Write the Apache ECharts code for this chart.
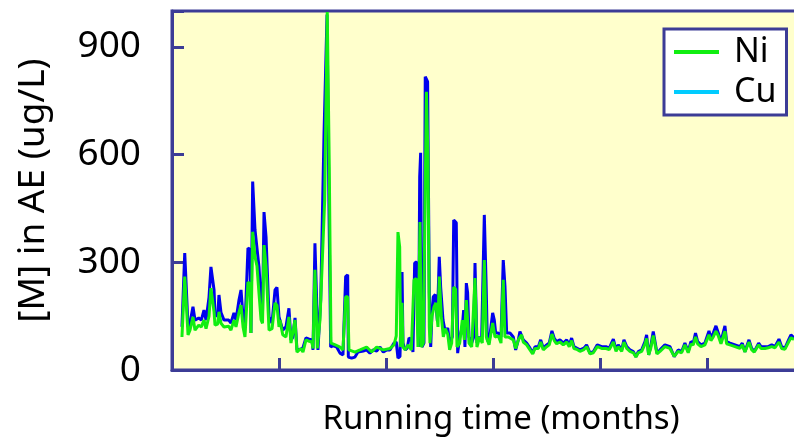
<!DOCTYPE html>
<html><head><meta charset="utf-8">
<script src="https://cdn.jsdelivr.net/npm/echarts@6/dist/echarts.min.js"></script>
<style>html,body{margin:0;padding:0;background:#fff}#c{width:794px;height:439px}</style>
</head><body><div id="c"></div>
<script>
const seriesNames = ['Ni', 'Cu'];
const yTicks = [0, 300, 600, 900];

const cuTime = [0.093,0.119,0.150,0.168,0.196,0.215,0.250,0.274,0.299,0.318,0.346,0.364,0.393,0.402,0.427,0.439,0.458,0.486,0.530,0.551,0.579,0.598,0.626,0.645,0.664,0.682,0.710,0.729,0.738,0.754,0.766,0.776,0.794,0.813,0.832,0.846,0.860,0.879,0.907,0.935,0.963,0.981,1.000,1.035,1.065,1.093,1.112,1.128,1.150,1.168,1.203,1.224,1.252,1.283,1.308,1.318,1.336,1.352,1.364,1.390,1.421,1.449,1.467,1.483,1.508,1.539,1.570,1.598,1.623,1.642,1.648,1.679,1.710,1.738,1.788,1.819,1.850,1.881,1.913,1.944,1.975,2.007,2.037,2.075,2.096,2.112,2.131,2.150,2.159,2.180,2.199,2.215,2.237,2.252,2.268,2.287,2.305,2.315,2.324,2.336,2.355,2.367,2.389,2.405,2.418,2.430,2.442,2.461,2.480,2.498,2.511,2.533,2.554,2.577,2.595,2.620,2.633,2.657,2.670,2.689,2.713,2.726,2.738,2.751,2.763,2.776,2.801,2.820,2.832,2.850,2.876,2.894,2.919,2.935,2.947,2.963,2.981,2.997,3.012,3.025,3.050,3.075,3.096,3.112,3.128,3.159,3.190,3.212,3.237,3.252,3.283,3.315,3.346,3.371,3.393,3.424,3.446,3.470,3.502,3.526,3.551,3.573,3.595,3.626,3.657,3.689,3.713,3.735,3.757,3.782,3.813,3.850,3.875,3.907,3.938,3.975,4.016,4.056,4.087,4.125,4.150,4.171,4.203,4.224,4.250,4.280,4.312,4.336,4.358,4.390,4.421,4.436,4.455,4.474,4.498,4.514,4.533,4.561,4.607,4.654,4.694,4.731,4.763,4.794,4.825,4.850,4.872,4.893,4.913,4.944,4.981,5.019,5.037,5.059,5.084,5.106,5.131,5.147,5.168,5.184,5.215,5.262,5.308,5.330,5.355,5.393,5.417,5.442,5.483,5.505,5.542,5.573,5.605,5.636,5.673,5.698,5.729,5.763,5.785,5.813];
const cuValue = [120,326,120,131,176,139,145,139,167,139,203,287,223,153,150,209,160,139,139,131,159,139,195,223,148,120,340,335,103,525,525,390,385,287,195,160,440,370,148,131,223,230,148,111,120,172,84,90,145,56,58,62,89,86,84,56,353,195,56,195,660,990,455,64,68,64,47,42,260,265,36,33,36,50,53,56,47,56,53,64,50,56,56,75,78,33,38,273,75,56,61,89,86,50,298,301,64,538,605,64,75,817,803,214,64,159,204,210,137,315,231,139,106,117,75,92,418,410,47,92,120,167,64,242,215,92,75,92,298,75,92,84,432,251,84,75,120,159,140,103,103,92,306,234,103,103,92,56,84,107,84,75,61,47,65,65,84,61,70,75,109,88,79,84,75,84,70,89,65,61,56,61,70,47,51,70,65,65,61,86,56,70,56,84,65,56,51,37,51,56,79,98,42,65,107,107,47,56,70,65,37,56,51,75,51,79,75,103,79,70,75,109,89,103,123,103,79,84,123,79,75,70,65,75,51,84,61,51,75,65,65,65,70,65,86,65,61,84,98,90];

const niTime = [0.093,0.119,0.150,0.168,0.196,0.215,0.250,0.274,0.299,0.318,0.346,0.364,0.393,0.402,0.427,0.439,0.458,0.486,0.530,0.551,0.579,0.598,0.626,0.645,0.664,0.682,0.710,0.729,0.738,0.754,0.766,0.776,0.794,0.813,0.832,0.846,0.860,0.879,0.907,0.935,0.963,0.981,1.000,1.009,1.035,1.065,1.093,1.112,1.150,1.168,1.203,1.224,1.252,1.283,1.308,1.318,1.336,1.358,1.383,1.427,1.451,1.470,1.486,1.526,1.570,1.598,1.623,1.642,1.654,1.710,1.757,1.819,1.866,1.913,1.975,2.037,2.075,2.096,2.112,2.128,2.137,2.150,2.159,2.180,2.206,2.224,2.237,2.262,2.283,2.299,2.318,2.330,2.349,2.378,2.393,2.405,2.411,2.430,2.449,2.467,2.486,2.498,2.517,2.536,2.554,2.577,2.595,2.614,2.633,2.651,2.664,2.689,2.713,2.732,2.751,2.763,2.776,2.801,2.832,2.850,2.876,2.900,2.919,2.938,2.963,2.997,3.019,3.050,3.075,3.096,3.112,3.143,3.190,3.212,3.237,3.268,3.283,3.315,3.346,3.371,3.393,3.424,3.446,3.470,3.502,3.526,3.551,3.573,3.595,3.626,3.657,3.689,3.713,3.735,3.757,3.782,3.813,3.850,3.875,3.907,3.938,3.975,4.016,4.056,4.087,4.125,4.150,4.171,4.203,4.224,4.250,4.280,4.312,4.336,4.358,4.390,4.421,4.436,4.455,4.474,4.498,4.514,4.533,4.561,4.607,4.654,4.694,4.731,4.763,4.794,4.825,4.850,4.872,4.893,4.913,4.944,4.981,5.019,5.037,5.059,5.084,5.106,5.131,5.147,5.168,5.184,5.215,5.262,5.308,5.330,5.355,5.393,5.417,5.442,5.483,5.505,5.542,5.573,5.605,5.636,5.673,5.698,5.729,5.763,5.785,5.813];
const niValue = [92,260,98,111,148,111,125,120,139,115,150,228,162,125,128,162,130,120,122,111,139,120,160,181,120,92,245,240,103,385,380,315,290,214,140,130,348,290,111,115,187,180,120,139,98,92,148,75,139,50,60,50,84,80,78,60,279,60,139,474,997,566,75,70,64,56,204,204,56,50,56,64,50,64,56,60,70,95,384,343,64,187,64,56,70,75,56,251,255,64,412,64,75,775,585,120,75,150,176,187,120,260,150,92,115,100,56,75,231,225,64,75,139,84,195,139,75,64,256,64,92,75,306,92,70,131,92,95,75,251,92,92,84,60,84,98,78,70,56,45,60,60,78,56,65,70,100,82,73,78,70,78,65,82,60,58,52,57,65,45,48,65,60,60,57,78,52,65,52,78,60,52,48,36,48,52,72,88,42,60,96,95,45,52,65,60,38,52,48,70,48,72,70,92,73,65,70,98,82,92,108,95,73,78,108,73,70,65,60,70,50,78,57,50,70,60,60,62,65,62,78,60,58,78,90,85];

const zip = (t, v) => t.map((x, i) => [x, v[i]]);
const frame = '#3c3c96';
const font = 'Noto Sans';

const chart = echarts.init(document.getElementById('c'), null, {renderer: 'canvas'});
chart.setOption({
  animation: false,
  textStyle: {fontFamily: font},
  grid: {left: 172, top: 11, bottom: 69, right: -10, show: true, containLabel: false,
         outerBoundsMode: 'none',
         backgroundColor: '#ffffcc', borderColor: frame, borderWidth: 3},
  xAxis: {
    type: 'value', min: 0, max: 5.907, interval: 1,
    name: 'Running time (months)', nameLocation: 'middle', nameGap: 33,
    nameTextStyle: {fontSize: 33, color: '#000', fontFamily: font, padding: [0, 0, 0, 26]},
    axisLine: {show: true, lineStyle: {color: frame, width: 3}},
    axisTick: {show: true, inside: true, length: 12, lineStyle: {color: frame, width: 3}},
    axisLabel: {show: false}, splitLine: {show: false}
  },
  yAxis: {
    type: 'value', min: yTicks[0], max: 1000, interval: 300,
    name: '[M] in AE (ug/L)', nameLocation: 'middle', nameGap: 120, nameRotate: 90,
    nameTextStyle: {fontSize: 37, color: '#000', fontFamily: font},
    axisLine: {show: true, lineStyle: {color: frame, width: 3}},
    axisTick: {show: true, inside: true, length: 12, lineStyle: {color: frame, width: 3}},
    axisLabel: {fontSize: 37, color: '#000', margin: 31, fontFamily: font,
      formatter: v => yTicks.includes(v) ? String(v) : ''},
    splitLine: {show: false}
  },
  legend: {
    orient: 'vertical', left: 664, top: 29, width: 100,
    backgroundColor: '#fff', borderColor: frame, borderWidth: 3,
    padding: [6, 10, 6, 10], itemGap: 6, itemWidth: 45, itemHeight: 4, icon: 'rect',
    textStyle: {fontSize: 34, color: '#000', fontFamily: font, padding: [0, 0, 0, 10]},
    data: [{name: seriesNames[0], itemStyle: {color: '#11ee11'}},
           {name: seriesNames[1], itemStyle: {color: '#00ccff'}}]
  },
  series: [
    {name: seriesNames[1], type: 'line', data: zip(cuTime, cuValue), symbol: 'none',
     color: '#00ccff', lineStyle: {color: '#0000ee', width: 3}, z: 2},
    {name: seriesNames[0], type: 'line', data: zip(niTime, niValue), symbol: 'none',
     color: '#11ee11', lineStyle: {color: '#11ee11', width: 3}, z: 3}
  ]
});
</script></body></html>
